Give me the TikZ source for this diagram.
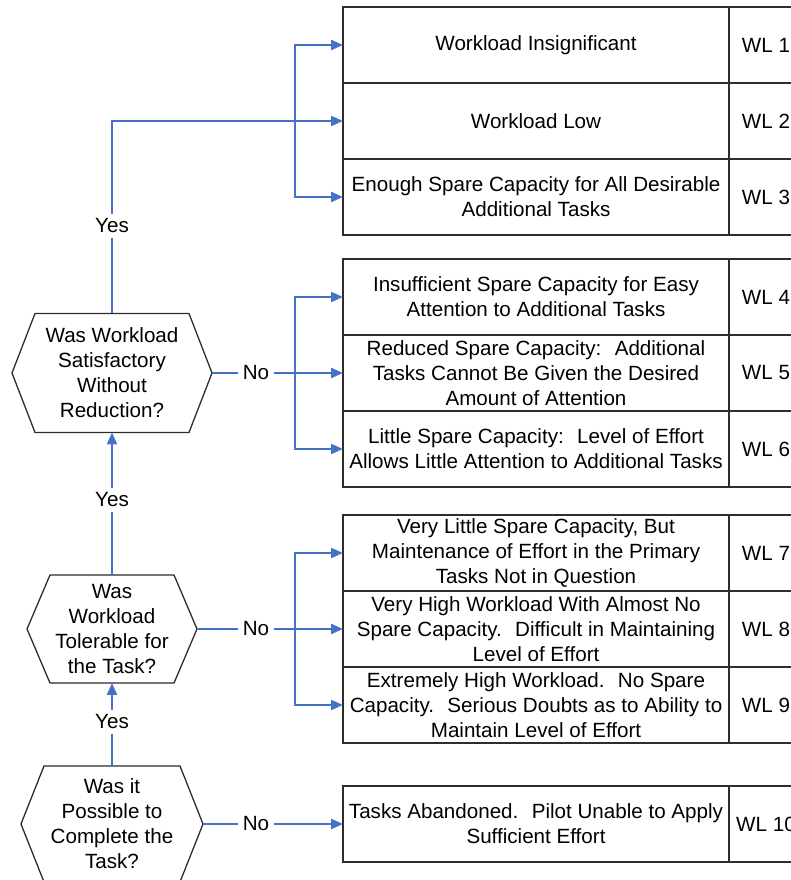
\documentclass[tikz,border=0pt]{standalone}
\usepackage{fontspec}
\setmainfont{Liberation Sans}
\usetikzlibrary{
  positioning,
  arrows.meta
}
\definecolor{flowblue}{RGB}{68,114,196}
\definecolor{boxline}{RGB}{45,45,45}

\tikzset{
  rowbox/.style={draw=boxline, line width=1.3pt, outer sep=0pt, minimum width=386pt, minimum height=76pt, align=center, inner sep=2pt},
  wlbox/.style={draw=boxline, line width=1.3pt, outer sep=0pt, minimum width=74pt, minimum height=76pt},
  question/.style={align=center, inner sep=0pt, outer sep=0pt},
  lbl/.style={inner sep=5pt},
  link/.style={flowblue, line width=2.2pt},
  flow/.style={link, -{Triangle[length=12pt,width=10pt]}}
}

\begin{document}
\begin{tikzpicture}[x=1pt,y=1pt,font=\fontsize{20.6}{25}\selectfont]
                \useasboundingbox (0,0) rectangle (791,880);
                \clip (0,0) rectangle (791,880);
                % questions
                \node[question, minimum width=200pt, minimum height=119pt] (q1) at (112,507) {Was Workload\\Satisfactory\\Without\\Reduction?};
                \node[question, minimum width=170pt, minimum height=108pt] (q2) at (112,251) {Was\\Workload\\Tolerable for\\the Task?};
                \node[question, minimum width=182pt, minimum height=116pt] (q3) at (112,56) {Was it\\Possible to\\Complete the\\Task?};
                \foreach \q in {q1,q2,q3}
                  \draw[boxline, line width=1.3pt] (\q.west) -- ([xshift=23pt]\q.north west) -- ([xshift=-23pt]\q.north east)
                    -- (\q.east) -- ([xshift=-23pt]\q.south east) -- ([xshift=23pt]\q.south west) -- cycle;
                % workload levels
                \node[rowbox, anchor=north west] (r1) at (343,873) {Workload Insignificant};
                \node[rowbox, below=0pt of r1] (r2) {Workload Low};
                \node[rowbox, below=0pt of r2] (r3) {Enough Spare Capacity for All Desirable\\Additional Tasks};
                \node[rowbox, anchor=north west] (r4) at (343,621) {Insufficient Spare Capacity for Easy\\Attention to Additional Tasks};
                \node[rowbox, below=0pt of r4] (r5) {Reduced Spare Capacity: \ Additional\\Tasks Cannot Be Given the Desired\\Amount of Attention};
                \node[rowbox, below=0pt of r5] (r6) {Little Spare Capacity: \ Level of Effort\\Allows Little Attention to Additional Tasks};
                \node[rowbox, anchor=north west] (r7) at (343,365) {Very Little Spare Capacity, But\\Maintenance of Effort in the Primary\\Tasks Not in Question};
                \node[rowbox, below=0pt of r7] (r8) {Very High Workload With Almost No\\Spare Capacity. \ Difficult in Maintaining\\Level of Effort};
                \node[rowbox, below=0pt of r8] (r9) {Extremely High Workload. \ No Spare\\Capacity. \ Serious Doubts as to Ability to\\Maintain Level of Effort};
                \node[rowbox, anchor=north west] (r10) at (343,94) {Tasks Abandoned. \ Pilot Unable to Apply\\Sufficient Effort};
                \foreach \i in {1,...,10}
                  \node[wlbox, right=0pt of r\i] (w\i) {WL \i};
                % yes / no labels
                \node[lbl] (y1) at (112,654) {Yes};
                \node[lbl] (y2) at (112,380) {Yes};
                \node[lbl] (y3) at (112,158) {Yes};
                \node[lbl] (n1) at (256,507) {No};
                \node[lbl] (n2) at (256,251) {No};
                \node[lbl] (n3) at (256,56) {No};
                \coordinate[left=48pt of r2.west] (b1);
                \coordinate[left=48pt of r5.west] (b2);
                \coordinate[left=48pt of r8.west] (b3);
                % connectors
                \draw[link] (q1.north) -- (y1);
                \draw[flow] (y1) |- (r2.west);
                \draw[flow] (b1) |- (r1.west);
                \draw[flow] (b1) |- (r3.west);
                \draw[link] (q2.north) -- (y2);
                \draw[flow] (y2) -- (q1.south);
                \draw[link] (q3.north) -- (y3);
                \draw[flow] (y3) -- (q2.south);
                \draw[link] (q1.east) -- (n1);
                \draw[flow] (n1) -- (r5.west);
                \draw[flow] (b2) |- (r4.west);
                \draw[flow] (b2) |- (r6.west);
                \draw[link] (q2.east) -- (n2);
                \draw[flow] (n2) -- (r8.west);
                \draw[flow] (b3) |- (r7.west);
                \draw[flow] (b3) |- (r9.west);
                \draw[link] (q3.east) -- (n3);
                \draw[flow] (n3) -- (r10.west);
            \end{tikzpicture}
\end{document}
